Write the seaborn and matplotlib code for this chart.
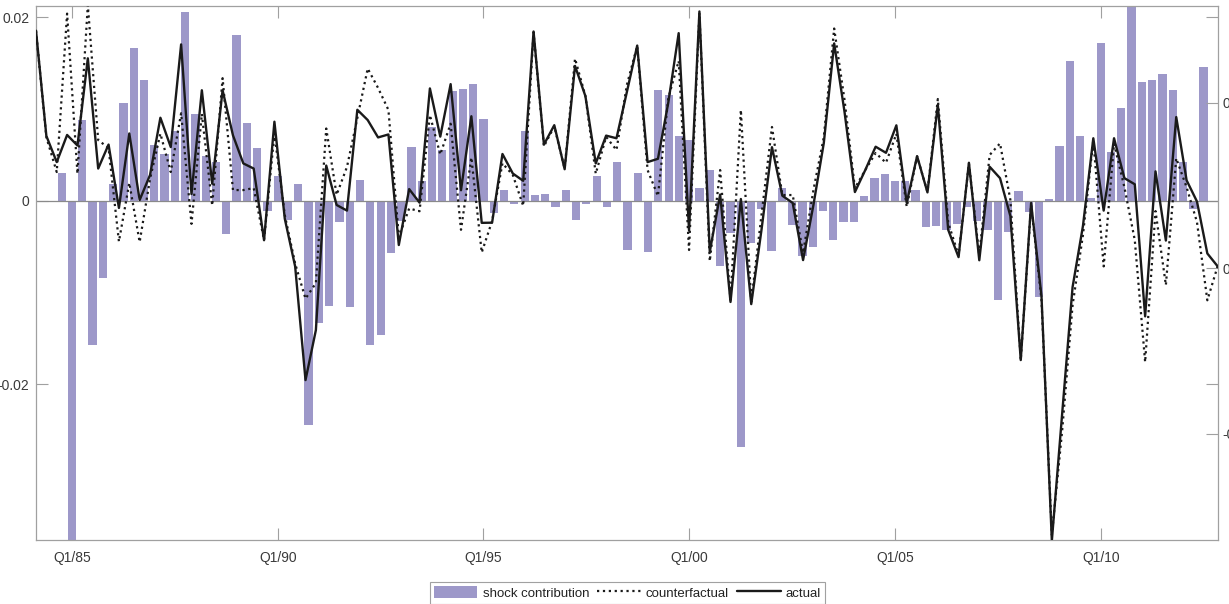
import numpy as np
import pandas as pd
import matplotlib
matplotlib.use("Agg")
import matplotlib.pyplot as plt
from matplotlib.patches import Patch
from matplotlib.lines import Line2D
import seaborn as sns

# Quarterly data, Q2/84 ... Q4/12
shock_contribution = [
    0.0, 0.0, 0.0030, -0.0400, 0.0088, -0.0157, -0.0084, 0.0018, 0.0106, 0.0166,
    0.0131, 0.0061, 0.0051, 0.0076, 0.0206, 0.0094, 0.0049, 0.0042, -0.0036, 0.0180,
    0.0084, 0.0057, -0.0011, 0.0027, -0.0021, 0.0018, -0.0245, -0.0134, -0.0115, -0.0023,
    -0.0116, 0.0022, -0.0158, -0.0147, -0.0057, -0.0022, 0.0058, 0.0021, 0.0080, 0.0055,
    0.0119, 0.0121, 0.0127, 0.0089, -0.0014, 0.0011, -0.0004, 0.0076, 0.0006, 0.0007,
    -0.0007, 0.0011, -0.0021, -0.0004, 0.0027, -0.0007, 0.0042, -0.0054, 0.0030, -0.0056,
    0.0120, 0.0115, 0.0070, 0.0066, 0.0014, 0.0033, -0.0071, -0.0035, -0.0269, -0.0046,
    -0.0009, -0.0055, 0.0014, -0.0027, -0.0060, -0.0051, -0.0011, -0.0043, -0.0023, -0.0023,
    0.0005, 0.0025, 0.0029, 0.0021, 0.0021, 0.0011, -0.0029, -0.0028, -0.0032, -0.0026,
    -0.0007, -0.0022, -0.0032, -0.0108, -0.0034, 0.0010, -0.0013, -0.0105, 0.0002, 0.0059,
    0.0152, 0.0070, 0.0003, 0.0172, 0.0053, 0.0101, 0.0225, 0.0129, 0.0131, 0.0138,
    0.0120, 0.0042, -0.0009, 0.0145, -0.0001,
]

actual = [
    0.01434, 0.00798, 0.00640, 0.00804, 0.00740, 0.01267, 0.00601, 0.00746, 0.00363, 0.00813,
    0.00411, 0.00562, 0.00908, 0.00731, 0.01351, 0.00447, 0.01074, 0.00509, 0.01074, 0.00802,
    0.00632, 0.00601, 0.00168, 0.00884, 0.00298, 0.00010, -0.00677, -0.00375, 0.00619, 0.00381,
    0.00347, 0.00956, 0.00894, 0.00789, 0.00807, 0.00139, 0.00477, 0.00395, 0.01085, 0.00794,
    0.01111, 0.00470, 0.00917, 0.00273, 0.00274, 0.00689, 0.00571, 0.00527, 0.01429, 0.00746,
    0.00863, 0.00597, 0.01221, 0.01039, 0.00632, 0.00800, 0.00784, 0.01063, 0.01344, 0.00640,
    0.00660, 0.01000, 0.01419, 0.00227, 0.01550, 0.00098, 0.00444, -0.00205, 0.00417, -0.00218,
    0.00236, 0.00730, 0.00437, 0.00393, 0.00048, 0.00381, 0.00755, 0.01357, 0.00943, 0.00459,
    0.00592, 0.00733, 0.00696, 0.00862, 0.00394, 0.00676, 0.00457, 0.00985, 0.00231, 0.00066,
    0.00636, 0.00047, 0.00612, 0.00543, 0.00314, -0.00556, 0.00393, -0.00169, -0.01647, -0.00876,
    -0.00115, 0.00254, 0.00784, 0.00347, 0.00784, 0.00543, 0.00506, -0.00292, 0.00584, 0.00166,
    0.00912, 0.00530, 0.00402, 0.00088, 0.00010,
]

counterfactual = [
    0.01434, 0.00790, 0.00580, 0.01537, 0.00570, 0.01589, 0.00773, 0.00725, 0.00160, 0.00514,
    0.00157, 0.00538, 0.00812, 0.00580, 0.00935, 0.00267, 0.00931, 0.00378, 0.01147, 0.00471,
    0.00471, 0.00483, 0.00169, 0.00812, 0.00320, 0.00027, -0.00185, -0.00091, 0.00843, 0.00442,
    0.00611, 0.00906, 0.01205, 0.01088, 0.00955, 0.00187, 0.00360, 0.00343, 0.00924, 0.00686,
    0.00872, 0.00231, 0.00668, 0.00094, 0.00284, 0.00633, 0.00562, 0.00376, 0.01424, 0.00735,
    0.00856, 0.00600, 0.01265, 0.01040, 0.00570, 0.00792, 0.00713, 0.01106, 0.01341, 0.00592,
    0.00435, 0.01027, 0.01251, 0.00109, 0.01541, 0.00042, 0.00592, -0.00193, 0.00955, -0.00205,
    0.00326, 0.00852, 0.00441, 0.00441, 0.00091, 0.00471, 0.00790, 0.01447, 0.01015, 0.00483,
    0.00592, 0.00695, 0.00636, 0.00811, 0.00370, 0.00674, 0.00460, 0.01021, 0.00275, 0.00076,
    0.00632, 0.00076, 0.00683, 0.00753, 0.00411, -0.00556, 0.00381, -0.00193, -0.01613, -0.00979,
    -0.00224, 0.00199, 0.00773, 0.00010, 0.00751, 0.00488, 0.00169, -0.00568, 0.00344, -0.00103,
    0.00663, 0.00488, 0.00278, -0.00195, 0.00012,
]

tick_labels = ["Q1/85", "Q1/90", "Q1/95", "Q1/00", "Q1/05", "Q1/10"]
left_ticks = [-0.02, 0.0, 0.02]
left_tick_labels = ["-0.02", "0", "0.02"]
right_ticks = [-0.01, 0.0, 0.01]
right_tick_labels = ["-0.01", "0", "0.01"]

sns.set_theme(style="white")
plt.rcParams['font.family'] = ['Liberation Sans', 'DejaVu Sans']

BAR_COLOR = "#9d98c9"
AX_GRAY = "#a0a0a0"
TXT = "#3a3a3a"

n = len(actual)
q_rel = np.arange(n) - 3          # quarters relative to Q1/85
obs = np.arange(n)                # observation index for the line axis

W, H = 1229, 604
fig = plt.figure(figsize=(W / 100, H / 100), dpi=100)
rect = [36 / W, 64 / H, 1181.7 / W, 534 / H]

# ---- bar axis (left) ----
ax = fig.add_axes(rect)
df_bar = pd.DataFrame({"q": q_rel, "v": shock_contribution})
sns.barplot(data=df_bar, x="q", y="v", native_scale=True, width=0.8,
            color=BAR_COLOR, saturation=1, errorbar=None, ax=ax,
            edgecolor="none", linewidth=0, zorder=1)
ax.axhline(0, color="#8a8a8a", lw=0.9, zorder=2)
ax.set_xlim(-3.5, 111.37)
ax.set_ylim(-0.0370, 0.0212)
ax.set_xticks([0, 20, 40, 60, 80, 100])
ax.set_xticklabels(tick_labels)
ax.set_yticks(left_ticks)
ax.set_yticklabels(left_tick_labels)
ax.set_xlabel("")
ax.set_ylabel("")
ax.grid(False)
ax.set_facecolor("white")
for sp in ax.spines.values():
    sp.set_color(AX_GRAY)
    sp.set_linewidth(0.9)
    sp.set_visible(True)
ax.tick_params(axis="both", direction="in", length=8.6, width=0.8,
               color=AX_GRAY, labelcolor=TXT, labelsize=10,
               top=True, right=True, bottom=True, left=True)
ax.tick_params(axis="x", pad=8)
ax.tick_params(axis="y", pad=4.8)

# ---- line axis (right) ----
ax2 = fig.add_axes(rect)
ax2.patch.set_alpha(0)
sns.lineplot(x=obs, y=counterfactual, ax=ax2, color="#1a1a1a",
             linestyle=":", linewidth=1.6, zorder=3)
sns.lineplot(x=obs, y=actual, ax=ax2, color="#1a1a1a",
             linestyle="-", linewidth=1.7, zorder=4)
ax2.set_xlim(0, n - 1)
ax2.set_ylim(-0.01643, 0.01583)
ax2.set_xticks([])
ax2.set_yticks(right_ticks)
ax2.set_yticklabels(right_tick_labels)
ax2.set_xlabel("")
ax2.set_ylabel("")
ax2.grid(False)
for sp in ax2.spines.values():
    sp.set_visible(False)
ax2.yaxis.tick_right()
ax2.tick_params(axis="y", direction="in", length=8.6, width=0.8,
                color=AX_GRAY, labelcolor=TXT, labelsize=10, pad=3.6,
                left=False, right=True, labelleft=False, labelright=True)

# ---- legend ----
handles = [
    Patch(facecolor=BAR_COLOR, edgecolor="none"),
    Line2D([0], [0], color="#1a1a1a", linestyle=":", linewidth=1.6),
    Line2D([0], [0], color="#1a1a1a", linestyle="-", linewidth=1.7),
]
leg = fig.legend(handles, ["shock contribution", "counterfactual", "actual"],
                 loc="lower center", bbox_to_anchor=(627.5 / W, 0.5 / H),
                 bbox_transform=fig.transFigure, ncol=3, frameon=True,
                 fancybox=False, fontsize=9.5, handlelength=3.3,
                 handleheight=1.0, handletextpad=0.4, columnspacing=0.6,
                 borderpad=0.3, borderaxespad=0)
leg.get_frame().set_edgecolor("#8a8a8a")
leg.get_frame().set_linewidth(0.8)
for t in leg.get_texts():
    t.set_color("#222222")

fig.savefig("out.png", dpi=100)
